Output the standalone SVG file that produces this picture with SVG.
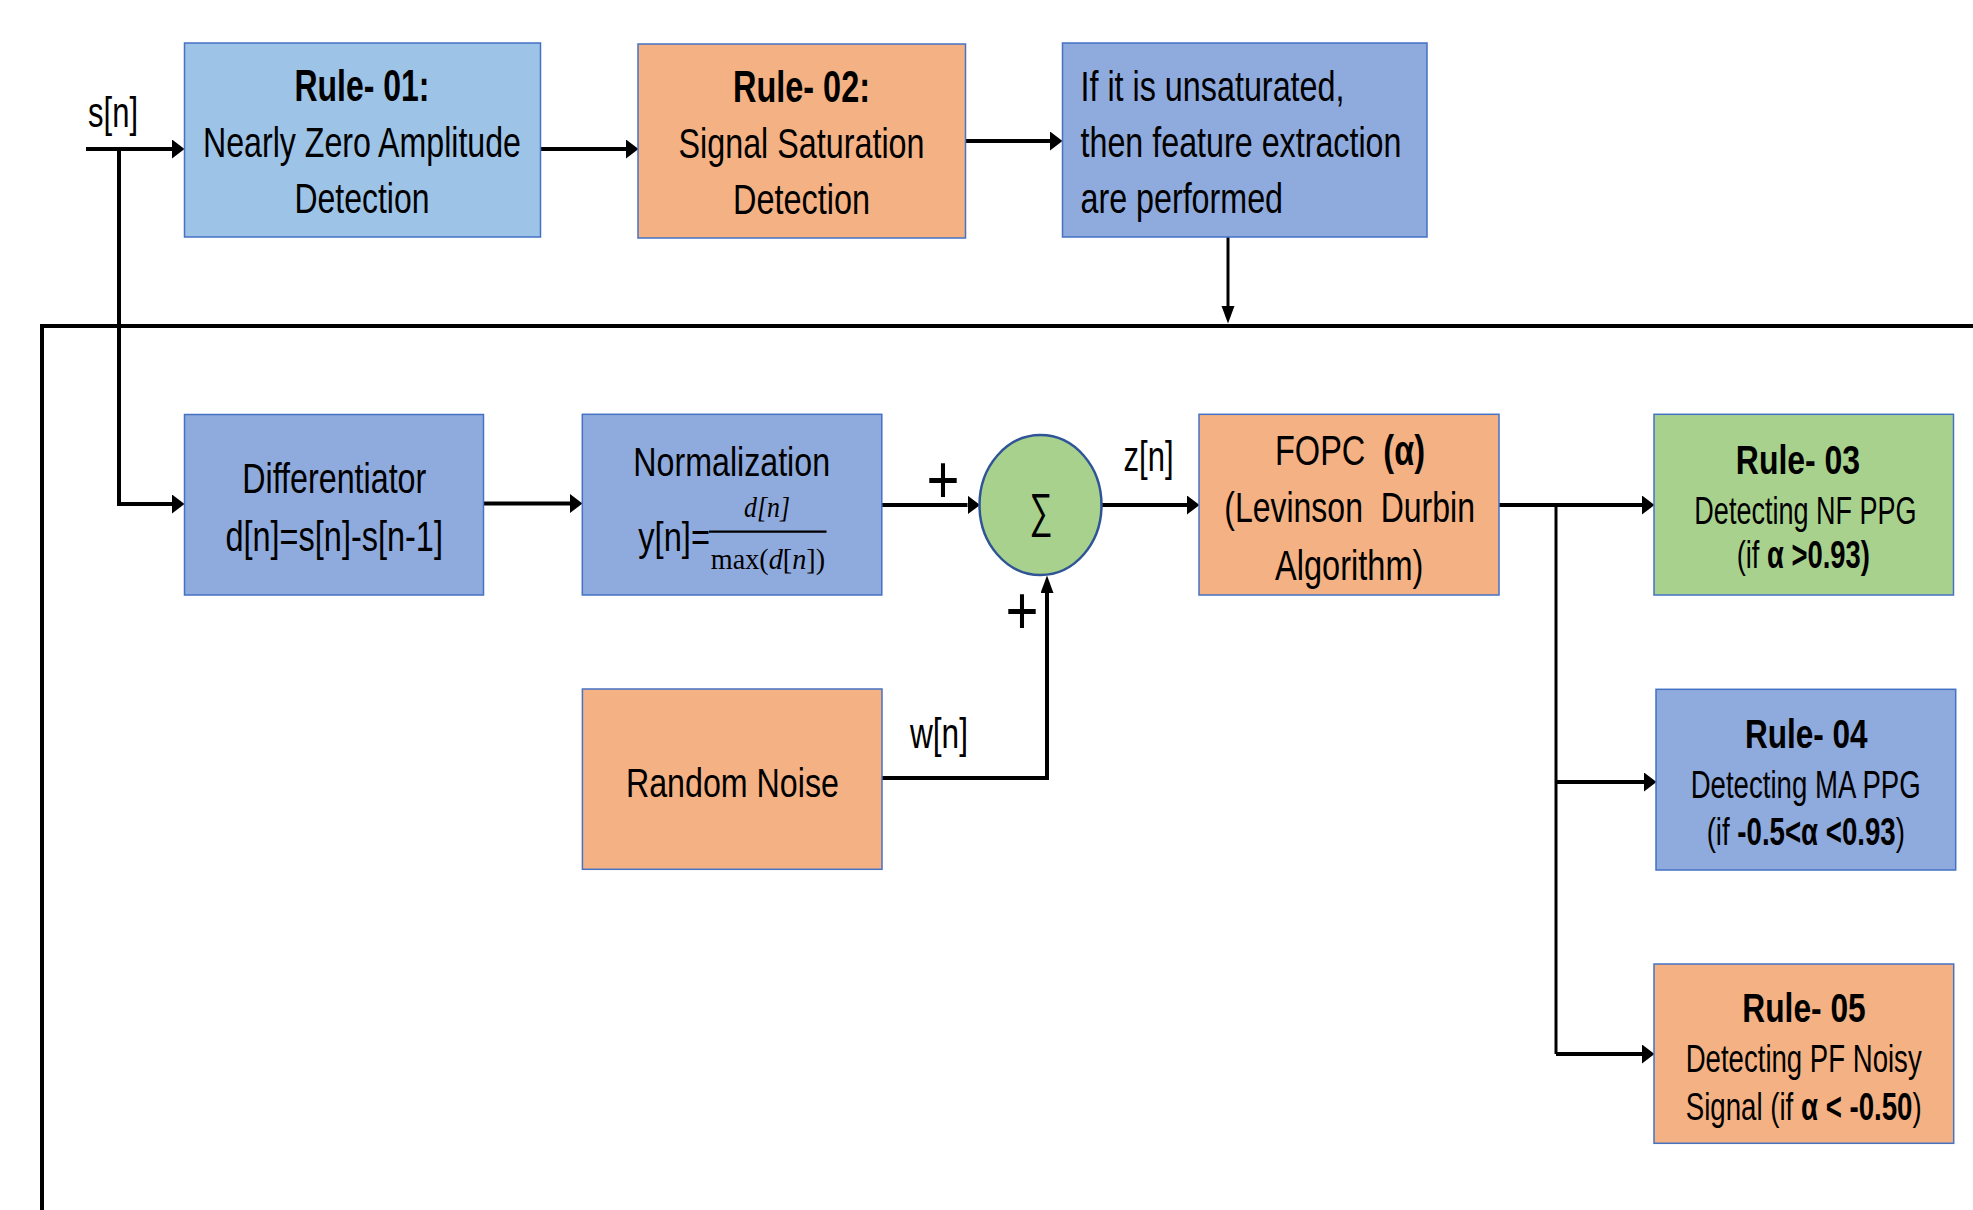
<svg xmlns="http://www.w3.org/2000/svg" width="1973" height="1210" viewBox="0 0 1973 1210">
  <style>
    .box { stroke: #4472C4; stroke-width: 1.5; }
    .lb { fill: #9DC3E6; }
    .or { fill: #F4B183; }
    .bl { fill: #8FAADC; }
    .gr { fill: #A9D18E; }
    text { font-family: "Liberation Sans", Arial, sans-serif; fill: #000; }
    .c { text-anchor: middle; }
    .b { font-weight: bold; }
    .m { font-family: "Liberation Serif", "Times New Roman", serif; }
    .i { font-style: italic; }
    .wire { fill: none; stroke: #000; stroke-width: 4; }
    .thin { stroke-width: 3; }
  </style>
  <defs>
    <marker id="ah" markerUnits="userSpaceOnUse" markerWidth="13" markerHeight="20" refX="0" refY="9.5" orient="auto">
      <path d="M0,0 L12.5,9.5 L0,19 Z" fill="#000"/>
    </marker>
    <marker id="ahs" markerUnits="userSpaceOnUse" markerWidth="18" markerHeight="14" refX="0" refY="6.5" orient="auto">
      <path d="M0,0 L17.5,6.5 L0,13 Z" fill="#000"/>
    </marker>
  </defs>

  <rect width="1973" height="1210" fill="#fff"/>

  <!-- connectors -->
  <g id="connectors">
    <path class="wire" d="M42,1210 V326 H1973"/>
    <path class="wire" d="M86,149 H172" marker-end="url(#ah)"/>
    <path class="wire" d="M541,149 H626" marker-end="url(#ah)"/>
    <path class="wire" d="M965,141 H1050" marker-end="url(#ah)"/>
    <path class="wire thin" d="M1228,237 V306" marker-end="url(#ahs)"/>
    <path class="wire" d="M119,149 V504 H172" marker-end="url(#ah)"/>
    <path class="wire" d="M483.5,503.5 H570" marker-end="url(#ah)"/>
    <path class="wire" d="M882,505 H967.5" marker-end="url(#ah)"/>
    <path class="wire" d="M1101.5,505 H1187" marker-end="url(#ah)"/>
    <path class="wire" d="M1499,505 H1642" marker-end="url(#ah)"/>
    <path class="wire thin" d="M1556,505 V1054"/>
    <path class="wire" d="M1556,1054 H1642" marker-end="url(#ah)"/>
    <path class="wire" d="M1556,782 H1644" marker-end="url(#ah)"/>
    <path class="wire" d="M882,778 H1047 V593" marker-end="url(#ahs)"/>
    <text x="88" y="126.5" font-size="42" textLength="50" lengthAdjust="spacingAndGlyphs">s[n]</text>
    <text x="1123.5" y="471" font-size="42" textLength="50" lengthAdjust="spacingAndGlyphs">z[n]</text>
    <text x="910" y="748" font-size="42" textLength="58" lengthAdjust="spacingAndGlyphs">w[n]</text>
    <text class="c" x="943" y="503" font-size="68" textLength="33" lengthAdjust="spacingAndGlyphs">+</text>
    <text class="c" x="1022" y="634" font-size="68" textLength="33" lengthAdjust="spacingAndGlyphs">+</text>
  </g>

  <g id="rule01">
    <rect class="box lb" x="184.5" y="43" width="356" height="194"/>
    <text class="c b" x="362" y="100.5" font-size="44" textLength="135" lengthAdjust="spacingAndGlyphs">Rule- 01:</text>
    <text class="c" x="362" y="156.5" font-size="42" textLength="318" lengthAdjust="spacingAndGlyphs">Nearly Zero Amplitude</text>
    <text class="c" x="362" y="213" font-size="42" textLength="135" lengthAdjust="spacingAndGlyphs">Detection</text>
  </g>

  <g id="rule02">
    <rect class="box or" x="638" y="44" width="327.5" height="194"/>
    <text class="c b" x="801.5" y="101.5" font-size="44" textLength="137" lengthAdjust="spacingAndGlyphs">Rule- 02:</text>
    <text class="c" x="801.5" y="158" font-size="42" textLength="246" lengthAdjust="spacingAndGlyphs">Signal Saturation</text>
    <text class="c" x="801.5" y="214" font-size="42" textLength="137" lengthAdjust="spacingAndGlyphs">Detection</text>
  </g>

  <g id="extraction">
    <rect class="box bl" x="1062.5" y="43" width="364.5" height="194"/>
    <text x="1080.5" y="100.5" font-size="42" textLength="264" lengthAdjust="spacingAndGlyphs">If it is unsaturated,</text>
    <text x="1080.5" y="156.5" font-size="42" textLength="321" lengthAdjust="spacingAndGlyphs">then feature extraction</text>
    <text x="1080.5" y="212.5" font-size="42" textLength="202.5" lengthAdjust="spacingAndGlyphs">are performed</text>
  </g>

  <g id="differentiator">
    <rect class="box bl" x="184.5" y="414.5" width="299" height="180.5"/>
    <text class="c" x="334.3" y="493" font-size="43" textLength="184" lengthAdjust="spacingAndGlyphs">Differentiator</text>
    <text class="c" x="334.2" y="550.5" font-size="43" textLength="217.5" lengthAdjust="spacingAndGlyphs">d[n]=s[n]-s[n-1]</text>
  </g>

  <g id="normalization">
    <rect class="box bl" x="582.3" y="414.3" width="299.5" height="180.7"/>
    <text class="c" x="731.7" y="476" font-size="41" textLength="196.7" lengthAdjust="spacingAndGlyphs">Normalization</text>
    <text x="638.3" y="551" font-size="41" textLength="71.7" lengthAdjust="spacingAndGlyphs">y[n]=</text>
    <line x1="709" y1="531.7" x2="826.5" y2="531.7" stroke="#000" stroke-width="2.2"/>
    <text class="c m i" x="767" y="517" font-size="29" textLength="46" lengthAdjust="spacingAndGlyphs">d[n]</text>
    <text class="c m" x="768" y="568.5" font-size="29" textLength="114.3" lengthAdjust="spacingAndGlyphs">max(<tspan class="i">d</tspan>[<tspan class="i">n</tspan>])</text>
  </g>

  <g id="summer">
    <ellipse cx="1040.5" cy="505" rx="61" ry="70" fill="#A9D18E" stroke="#2F5597" stroke-width="2.5"/>
    <text class="c" x="1041" y="527" font-size="48" textLength="23" lengthAdjust="spacingAndGlyphs">∑</text>
  </g>

  <g id="noise">
    <rect class="box or" x="582.4" y="689" width="299.6" height="180.3"/>
    <text class="c" x="732.4" y="796.7" font-size="40" textLength="213" lengthAdjust="spacingAndGlyphs">Random Noise</text>
  </g>

  <g id="fopc">
    <rect class="box or" x="1199" y="414.3" width="300" height="180.7"/>
    <text class="c" x="1350" y="465" font-size="43" textLength="150" lengthAdjust="spacingAndGlyphs" xml:space="preserve">FOPC  <tspan class="b">(α)</tspan></text>
    <text class="c" x="1349.6" y="522.3" font-size="42" textLength="250.7" lengthAdjust="spacingAndGlyphs" xml:space="preserve">(Levinson  Durbin</text>
    <text class="c" x="1349.2" y="580" font-size="42" textLength="148.3" lengthAdjust="spacingAndGlyphs">Algorithm)</text>
  </g>

  <g id="rule03">
    <rect class="box gr" x="1654" y="414.3" width="299.5" height="180.7"/>
    <text class="c b" x="1798" y="474" font-size="41" textLength="124.3" lengthAdjust="spacingAndGlyphs">Rule- 03</text>
    <text class="c" x="1805.5" y="524" font-size="38" textLength="222.3" lengthAdjust="spacingAndGlyphs">Detecting NF PPG</text>
    <text class="c" x="1803.3" y="568.3" font-size="38" textLength="133.3" lengthAdjust="spacingAndGlyphs">(if <tspan class="b">α &gt;0.93)</tspan></text>
  </g>

  <g id="rule04">
    <rect class="box bl" x="1656" y="689.3" width="299.7" height="180.7"/>
    <text class="c b" x="1806.3" y="748.3" font-size="41" textLength="122.7" lengthAdjust="spacingAndGlyphs">Rule- 04</text>
    <text class="c" x="1805.7" y="798.3" font-size="38" textLength="230" lengthAdjust="spacingAndGlyphs">Detecting MA PPG</text>
    <text class="c" x="1805.8" y="845" font-size="38" textLength="198.3" lengthAdjust="spacingAndGlyphs">(if <tspan class="b">-0.5&lt;α &lt;0.93</tspan>)</text>
  </g>

  <g id="rule05">
    <rect class="box or" x="1654" y="964" width="299.7" height="179.3"/>
    <text class="c b" x="1804" y="1021.7" font-size="41" textLength="123.3" lengthAdjust="spacingAndGlyphs">Rule- 05</text>
    <text class="c" x="1803.7" y="1071.7" font-size="38" textLength="236" lengthAdjust="spacingAndGlyphs">Detecting PF Noisy</text>
    <text class="c" x="1803.7" y="1120" font-size="38" textLength="236" lengthAdjust="spacingAndGlyphs">Signal (if <tspan class="b">α &lt; -0.50</tspan>)</text>
  </g>
</svg>
